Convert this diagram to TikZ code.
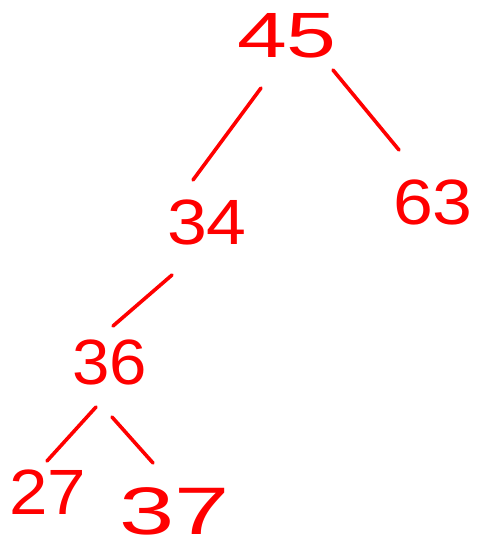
\documentclass[tikz,border=0pt]{standalone}
\usepackage{fontspec}
\setmainfont{Liberation Sans}
\usetikzlibrary{positioning}

\tikzset{
    num/.style={text=red, inner sep=0pt, xscale=#1, font=\fontsize{64}{64}\selectfont},
    num/.default=1.1,
    branch/.style={draw=red, line width=3.6pt, line cap=round, line join=round}
}

\begin{document}
\begin{tikzpicture}[x=1pt,y=-1pt]
    \useasboundingbox (0,0) rectangle (477,549);

    \node[num=1.4] (n45) at (287,36) {45};
    \node[num=1.12] (n34) at (207,222) {34};
    \node[num=1.12] (n63) at (433,202) {63};
    \node[num=1.05] (n36) at (110,362) {36};
    \node[num=1.08] (n27) at (48,492) {27};
    \node[num=1.55, yscale=1.05] (n37) at (175,511) {37};

    % edges of the tree
    \draw[branch] ([shift={(-26,52)}]n45.center) -- ([shift={(-14,-42)}]n34.center);
    \draw[branch] ([shift={(46,34)}]n45.center) -- ([shift={(-34,-52)}]n63.center);
    \draw[branch] ([shift={(-35,53)}]n34.center) -- ([shift={(3,-36)}]n36.center);
    \draw[branch] ([shift={(-14,45)}]n36.center) -- ([shift={(-1,-31)}]n27.center);
    \draw[branch] ([shift={(2,55)}]n36.center) -- ([shift={(-22,-48)}]n37.center);

\end{tikzpicture}
\end{document}
